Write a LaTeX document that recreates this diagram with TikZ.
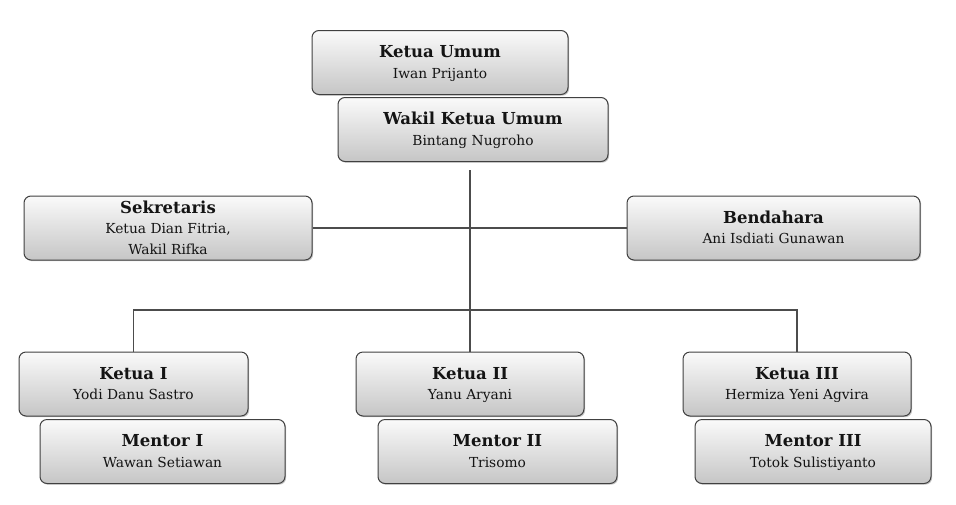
\documentclass[tikz,border=0pt]{standalone}
\usepackage{fontspec}
\setmainfont{DejaVu Serif}
\usetikzlibrary{shadows}
\tikzset{
	orgbox/.style = {draw = black!75, line width = 1pt, rounded corners = 7pt, top color = gray!4, bottom color = gray!45,
		drop shadow = {shadow xshift = 1.2pt, shadow yshift = -1.2pt, opacity = 0.45}, align = center, inner sep = 2pt,
		font = \fontsize{13.8}{20.5}\selectfont, text = black!92},
	link/.style = {draw = black!70, line width = 1.1pt}
}
\newcommand{\boxhead}[1]{{\fontsize{16.5}{22}\selectfont\bfseries #1}}
\begin{document}
\begin{tikzpicture}[x = 1pt, y = -1pt]
	\useasboundingbox (0, 0) rectangle (956, 504);
	\foreach \name/\i/\j/\w/\head/\who in {ketua/440/62.5/256/Ketua Umum/Iwan Prijanto, wakil/473/129.5/270/Wakil Ketua Umum/Bintang Nugroho,
		sekre/168/228/288/Sekretaris/{Ketua Dian Fitria,\\Wakil Rifka}, benda/773.5/228/293/Bendahara/Ani Isdiati Gunawan,
		ketuaI/133.5/384/229/Ketua I/Yodi Danu Sastro, mentorI/162.5/451.5/245/Mentor I/Wawan Setiawan,
		ketuaII/470/384/228/Ketua II/Yanu Aryani, mentorII/497.5/451.5/239/Mentor II/Trisomo,
		ketuaIII/797/384/228/Ketua III/Hermiza Yeni Agvira, mentorIII/813/451.5/236/Mentor III/Totok Sulistiyanto}{
		\node[orgbox, minimum width = \w pt, minimum height = 64pt, text depth = 1.5pt] (\name) at (\i, \j) {\boxhead{\head}\\\who};}
	% connectors
	\coordinate (top) at (470, 170);
	\coordinate (bar) at (470, 310);
	\draw[link] (top) -- (ketuaII.north);
	\draw[link] (sekre.east) -- (benda.west);
	\draw[link] (ketuaI.north) -- (ketuaI.north |- bar) -- (ketuaIII.north |- bar) -- (ketuaIII.north);
\end{tikzpicture}
\end{document}
